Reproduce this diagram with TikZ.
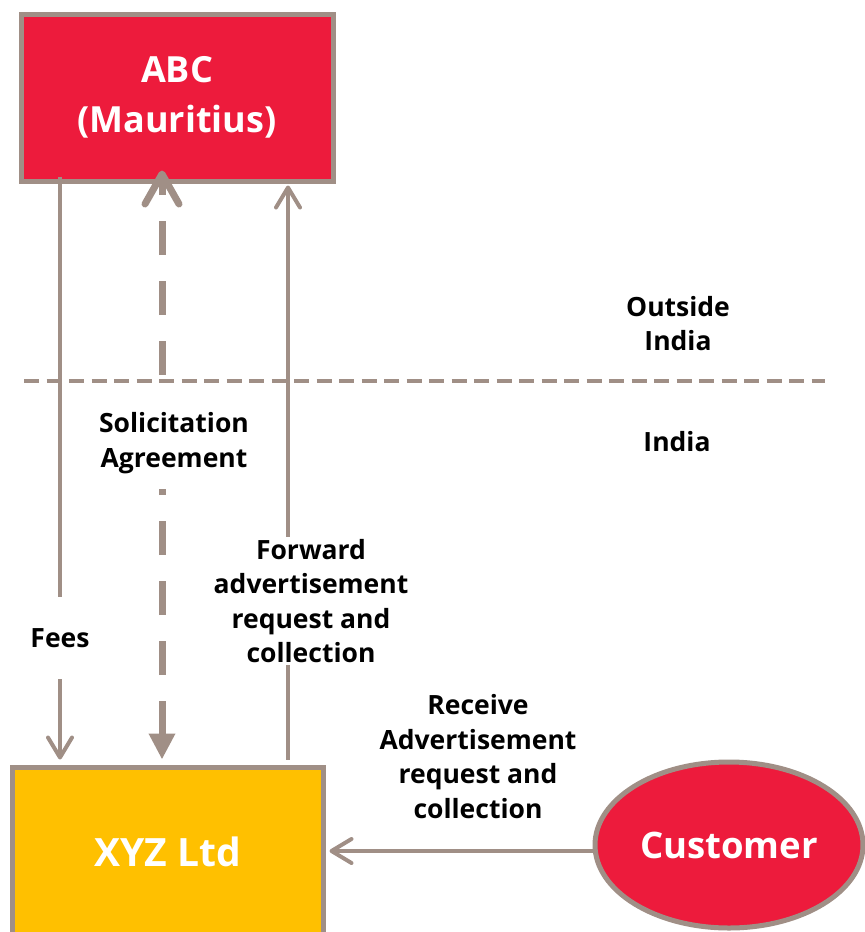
\documentclass[tikz,border=0pt]{standalone}
\usepackage{fontspec}
\setmainfont{Open Sans}
\usetikzlibrary{arrows.meta,shapes.geometric}
\definecolor{abcred}{HTML}{ED1B3C}
\definecolor{xyzgold}{HTML}{FFC000}
\definecolor{linegrey}{HTML}{A08F86}
\begin{document}
\begin{tikzpicture}[x=1pt,y=-1pt,
  entity/.style={draw=linegrey, line width=5pt, text=white, align=center,
    inner sep=0pt, font=\bfseries},
  flow/.style={draw=linegrey, line width=4pt},
  barb/.style={-{Straight Barb[length=20pt,width=24pt,line cap=round,line join=round]}},
  lbl/.style={font=\bfseries\fontsize{26.5}{34.5}\selectfont, align=center,
    text=black, inner sep=0pt},
  cover/.style={fill=white},
]
\useasboundingbox (0,0) rectangle (865,932);
\clip (0,0) rectangle (865,932);

% parties
\node[entity, fill=abcred, minimum width=312pt, minimum height=167pt,
      font=\bfseries\fontsize{36}{50}\selectfont] (abc) at (177,97.5) {ABC\\(Mauritius)};
\node[entity, fill=xyzgold, minimum width=311pt, minimum height=170pt,
      font=\bfseries\fontsize{39}{46}\selectfont] (xyz) at (167.5,852) {XYZ Ltd};
\node[entity, ellipse, fill=abcred, minimum width=268pt, minimum height=166pt,
      font=\bfseries\fontsize{36.5}{44}\selectfont] (cust) at (729,845) {Customer};

% column positions of the vertical flows, row of the customer flow
\coordinate (xfees) at (60,0);
\coordinate (xsol) at (162,0);
\coordinate (xfwd) at (288,0);
\coordinate (ycust) at (0,851);

% border between outside India and India
\coordinate (bl) at (24,381);
\coordinate (br) at (825,381);
\draw[linegrey, line width=4pt, dash pattern=on 15pt off 7.5pt] (bl) -- (br);

% fees paid to XYZ
\draw[flow, barb] ([yshift=7pt]abc.south -| xfees) -- ([yshift=5pt]xyz.north -| xfees);
% solicitation agreement
\draw[linegrey, line width=7pt, dash pattern=on 34pt off 26pt,
      {Triangle[length=26pt,width=25pt]}-{Straight Barb[length=30pt,width=34pt,line cap=round,line join=round]}]
      ([yshift=5pt]xyz.north -| xsol) -- ([yshift=13pt]abc.south -| xsol);
% forwarded requests and collections
\draw[flow, barb] ([yshift=5pt]xyz.north -| xfwd) -- ([yshift=-2pt]abc.south -| xfwd);
% customer requests
\draw[flow, barb] ([xshift=2pt]cust.west |- ycust) -- ([xshift=4pt]xyz.east |- ycust);

% labels
\node[lbl, cover, minimum width=70pt, minimum height=82pt] (lfees) at (60,638) {Fees};
\node[lbl, cover, minimum height=92pt] (lsol) at (174,443) {Solicitation\\Agreement};
\node[lbl, cover, inner sep=2pt] (lfwd) at (311,601) {Forward\\advertisement\\request and\\collection};
\node[lbl] (lrec) at (478,756.5) {Receive\\Advertisement\\request and\\collection};
\node[lbl] (lout) at (678,323.5) {Outside\\India};
\node[lbl] (lin) at (677,442) {India};
\end{tikzpicture}
\end{document}
